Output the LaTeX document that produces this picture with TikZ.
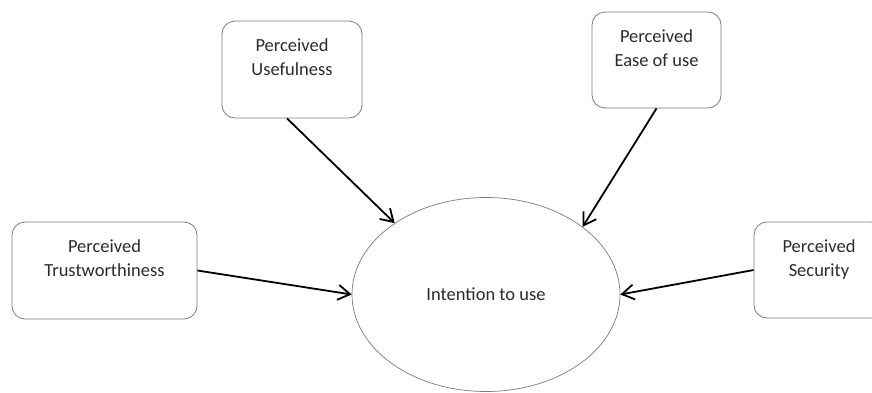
\documentclass[tikz,border=0pt]{standalone}
\usepackage{fontspec}
\setmainfont{Carlito}
\usetikzlibrary{arrows.meta,shapes.geometric}
\definecolor{txtgrey}{HTML}{2B2B2B}
\definecolor{boxgrey}{HTML}{7A7A7A}
\tikzset{
  factor/.style={draw=boxgrey, line width=0.8pt, rounded corners=13pt, align=center,
    text=txtgrey, font=\fontsize{18.5}{24}\selectfont, inner sep=0pt,
    minimum height=97pt},
  outcome/.style={draw=boxgrey, line width=0.7pt, ellipse, inner sep=0pt,
    text=txtgrey, font=\fontsize{18.5}{24}\selectfont,
    minimum width=268pt, minimum height=194pt},
  link/.style={line width=1.8pt, black, -{Straight Barb[length=12pt,width=15pt]}}
}
\begin{document}
\begin{tikzpicture}[x=1pt,y=-1pt]
\useasboundingbox (0,0) rectangle (872,392);
\clip (0,0) rectangle (872,392);
\node[outcome] (ell) at (486,294.5) {Intention to use};
\node[factor, minimum width=140pt] (pu) at (292,69.5) {Perceived\\Usefulness\\\mbox{}};
\node[factor, minimum width=129pt, minimum height=96pt] (pe) at (656.5,60) {Perceived\\Ease of use\\\mbox{}};
\node[factor, minimum width=185pt] (pt) at (104.5,270.5) {Perceived\\Trustworthiness\\\mbox{}};
\node[factor, minimum width=130pt, minimum height=96pt] (ps) at (819,270) {Perceived\\Security\\\mbox{}};
\draw[link] ([xshift=-5pt]pu.south) -- (ell.142.9);
\draw[link] (pe.south) -- (ell.35.6);
\draw[link] (pt.east) -- (ell.west);
\draw[link] (ps.west) -- (ell.east);
\end{tikzpicture}
\end{document}
